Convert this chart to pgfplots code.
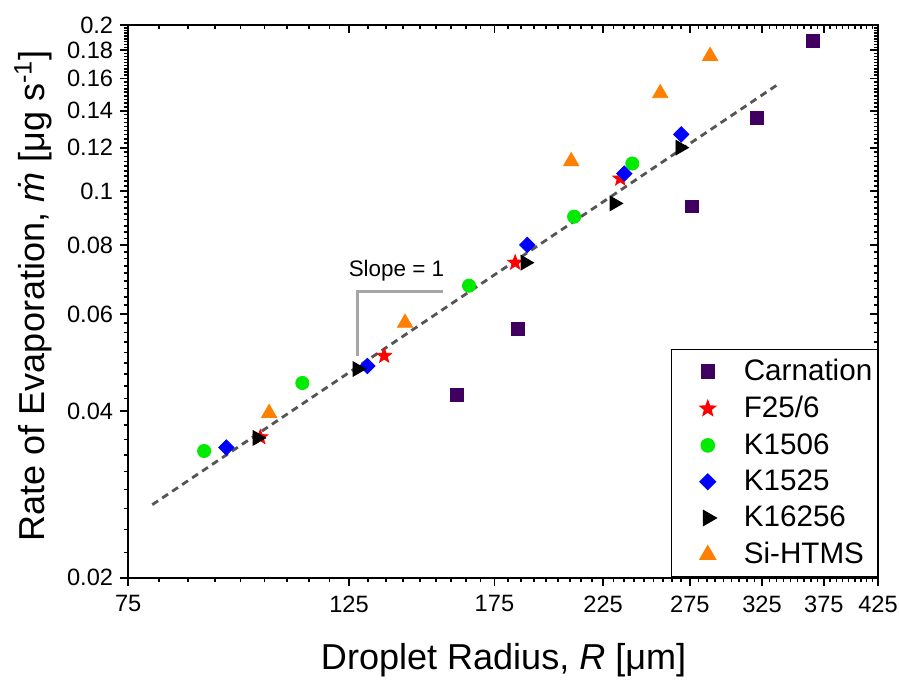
\documentclass[border=0pt]{standalone}
\usepackage{fontspec}
\setmainfont{Liberation Sans}
\usepackage{pgfplots}
\pgfplotsset{compat=1.18}
\usetikzlibrary{calc}

\definecolor{carn}{RGB}{64,0,96}
\definecolor{kgreen}{RGB}{0,235,0}
\definecolor{siorange}{RGB}{255,128,0}
\definecolor{fitgray}{RGB}{85,85,85}

% filled five-pointed star
\pgfdeclareplotmark{fstar}{%
  \pgfpathmoveto{\pgfpointpolar{90}{\pgfplotmarksize}}%
  \pgfpathlineto{\pgfpointpolar{126}{0.42\pgfplotmarksize}}%
  \pgfpathlineto{\pgfpointpolar{162}{\pgfplotmarksize}}%
  \pgfpathlineto{\pgfpointpolar{198}{0.42\pgfplotmarksize}}%
  \pgfpathlineto{\pgfpointpolar{234}{\pgfplotmarksize}}%
  \pgfpathlineto{\pgfpointpolar{270}{0.42\pgfplotmarksize}}%
  \pgfpathlineto{\pgfpointpolar{306}{\pgfplotmarksize}}%
  \pgfpathlineto{\pgfpointpolar{342}{0.42\pgfplotmarksize}}%
  \pgfpathlineto{\pgfpointpolar{18}{\pgfplotmarksize}}%
  \pgfpathlineto{\pgfpointpolar{54}{0.42\pgfplotmarksize}}%
  \pgfpathclose
  \pgfusepathqfillstroke
}

\def\majorx{75,125,175,225,275,325,375,425}
\def\majory{0.02,0.04,0.06,0.08,0.1,0.12,0.14,0.16,0.18,0.2}
% minor ticks: 8 between majors (Origin style)
\def\minorx{80.56,86.11,91.67,97.22,102.78,108.33,113.89,119.44,
  130.56,136.11,141.67,147.22,152.78,158.33,163.89,169.44,
  180.56,186.11,191.67,197.22,202.78,208.33,213.89,219.44,
  230.56,236.11,241.67,247.22,252.78,258.33,263.89,269.44,
  280.56,286.11,291.67,297.22,302.78,308.33,313.89,319.44,
  330.56,336.11,341.67,347.22,352.78,358.33,363.89,369.44,
  380.56,386.11,391.67,397.22,402.78,408.33,413.89,419.44}
\def\minory{0.02222,0.02444,0.02667,0.02889,0.03111,0.03333,0.03556,0.03778,
  0.04222,0.04444,0.04667,0.04889,0.05111,0.05333,0.05556,0.05778,
  0.06222,0.06444,0.06667,0.06889,0.07111,0.07333,0.07556,0.07778,
  0.08222,0.08444,0.08667,0.08889,0.09111,0.09333,0.09556,0.09778,
  0.10222,0.10444,0.10667,0.10889,0.11111,0.11333,0.11556,0.11778,
  0.12222,0.12444,0.12667,0.12889,0.13111,0.13333,0.13556,0.13778,
  0.14222,0.14444,0.14667,0.14889,0.15111,0.15333,0.15556,0.15778,
  0.16222,0.16444,0.16667,0.16889,0.17111,0.17333,0.17556,0.17778,
  0.18222,0.18444,0.18667,0.18889,0.19111,0.19333,0.19556,0.19778}

\begin{document}
\begin{tikzpicture}
\begin{axis}[
    name=main,
    scale only axis, width=374.5pt, height=276pt,
    xmode=log, ymode=log,
    xmin=75, xmax=425, ymin=0.02, ymax=0.2,
    clip=false,
    axis line style={line width=1pt},
    xtick/.expand once={\majorx},
    ytick/.expand once={\majory},
    major tick length=4pt,
    every tick/.style={black, line width=0.9pt},
    tick align=outside, tick pos=left,
    xticklabels={75,125,175,225,275,325,375,425},
    yticklabels={0.02,0.04,0.06,0.08,0.1,0.12,0.14,0.16,0.18,0.2},
    tick label style={font=\fontsize{11.8}{12}\selectfont},
    xticklabel style={yshift=-1.5pt},
    label style={font=\fontsize{18}{20}\selectfont},
    xlabel={Droplet Radius, \textit{R} [μm]},
    ylabel={Rate of Evaporation, \textit{ṁ} [μg s\textsuperscript{-1}]},
    xlabel style={at={(axis description cs:0.5007,-0.15)}, anchor=center},
    ylabel style={at={(axis description cs:-0.127,0.51)}, anchor=center},
    legend cell align=left,
    legend image code/.code={%
      \path[draw=none, fill=none] (0pt,-3pt) rectangle (30pt,3pt);
      \draw[mark repeat=2,mark phase=2,#1] plot coordinates {(5pt,0pt) (17pt,0pt) (29pt,0pt)};},
    legend style={at={(1,0)}, anchor=south east, draw=black, line width=0.7pt,
      font=\fontsize{14.8}{16}\selectfont, inner xsep=1pt, inner ysep=3.5pt,
      nodes={inner sep=1.5pt}, column sep=3.5pt, row sep=3.3pt},
]
% tick marks: outward bottom/left, inward top/right
\expandafter\pgfplotsinvokeforeach\expandafter{\majorx}{
  \draw[black, line width=0.9pt] (axis cs:#1,0.02) -- ++(0pt,-4pt);
  \draw[black, line width=0.9pt] (axis cs:#1,0.2) -- ++(0pt,-4pt);}
\expandafter\pgfplotsinvokeforeach\expandafter{\minorx}{
  \draw[black, line width=0.8pt] (axis cs:#1,0.02) -- ++(0pt,-2.2pt);
  \draw[black, line width=0.8pt] (axis cs:#1,0.2) -- ++(0pt,-2.2pt);}
\expandafter\pgfplotsinvokeforeach\expandafter{\majory}{
  \draw[black, line width=0.9pt] (axis cs:75,#1) -- ++(-4pt,0pt);
  \draw[black, line width=0.9pt] (axis cs:425,#1) -- ++(-4pt,0pt);}
\expandafter\pgfplotsinvokeforeach\expandafter{\minory}{
  \draw[black, line width=0.8pt] (axis cs:75,#1) -- ++(-2.2pt,0pt);
  \draw[black, line width=0.8pt] (axis cs:425,#1) -- ++(-2.2pt,0pt);}

% fitted line and slope guide
\addplot[forget plot, fitgray, line width=1.4pt, dash pattern=on 3.5pt off 2.5pt] coordinates {(79.3,0.0271) (337.4,0.1563)};
\addplot[forget plot, black!35, line width=1.5pt] coordinates {(127.5,0.0504) (127.5,0.0658) (155.4,0.0658)};
\node[anchor=base, font=\fontsize{11.2}{12}\selectfont] at (axis cs:139.5,0.0700) {Slope = 1};

\addplot[only marks, mark=square*, mark size=3.2pt, color=carn] coordinates {
  (160.5,0.0428) (184.9,0.0564) (276.5,0.0939) (321.4,0.1356) (365.8,0.187)};
\addlegendentry{Carnation}
\addplot[only marks, mark=fstar, mark size=3.9pt, color=red] coordinates {
  (101.8,0.0359) (135.6,0.0504) (183.6,0.0743) (234.1,0.1055)};
\addlegendentry{F25/6}
\addplot[only marks, mark=*, mark size=3.3pt, color=kgreen] coordinates {
  (89.4,0.0339) (112.2,0.0450) (165.0,0.0675) (210.4,0.0900) (240.7,0.1123)};
\addlegendentry{K1506}
\addplot[only marks, mark=square*, mark size=2.7pt, mark options={rotate=45}, color=blue] coordinates {
  (94.1,0.0344) (130.4,0.0483) (188.8,0.0800) (236.3,0.1077) (269.6,0.1268)};
\addlegendentry{K1525}
\addplot[only marks, mark=triangle*, mark size=4.2pt, mark options={rotate=-90}, color=black] coordinates {
  (101.1,0.0358) (127.4,0.0477) (187.9,0.0743) (230.9,0.0951) (268.9,0.1200)};
\addlegendentry{K16256}
\addplot[only marks, mark=triangle*, mark size=4.4pt, color=siorange] coordinates {
  (103.9,0.0397) (142.3,0.0578) (209.0,0.1133) (256.8,0.1505) (288.2,0.1757)};
\addlegendentry{Si-HTMS}
\end{axis}
\pgfresetboundingbox
\path ($(main.south west)+(-64pt,-51pt)$) rectangle ($(main.north east)+(10.5pt,12.5pt)$);
\end{tikzpicture}
\end{document}
